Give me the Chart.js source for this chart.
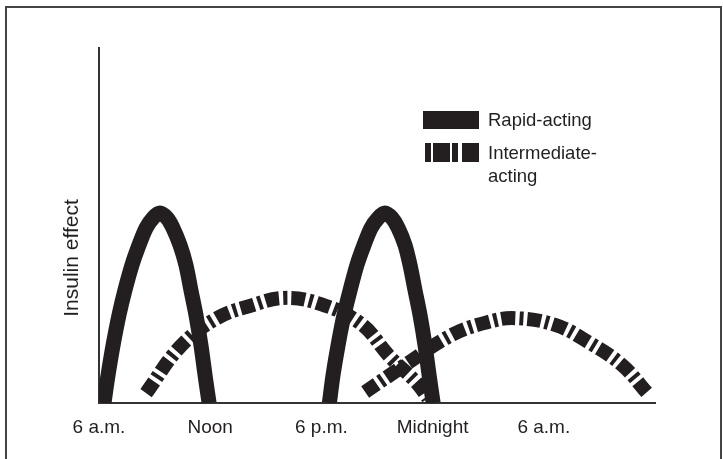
<!DOCTYPE html>
<html>
<head>
<meta charset="utf-8">
<script src="https://cdn.jsdelivr.net/npm/chart.js@4.4.1/dist/chart.umd.min.js"></script>
<style>
body { margin: 0; background: #fff; }
#wrap { width: 723px; height: 459px; }
</style>
</head>
<body>
<div id="wrap"><canvas id="myChart" width="723" height="459"></canvas></div>
<script>
// x = hours after 6 a.m. of the first day, y = relative insulin effect (0-100)
const tickHours = [0, 6, 12, 18, 24];
const tickLabels = ['6 a.m.', 'Noon', '6 p.m.', 'Midnight', '6 a.m.'];

const rapid1Hours = [0.27, 0.49, 0.76, 1.08, 1.40, 1.78, 2.16, 2.54, 2.91, 3.29,
    3.67, 3.99, 4.37, 4.69, 4.96, 5.23, 5.50, 5.72, 5.94];
const rapid1Effect = [0, 7.9, 16.3, 24.8, 31.8, 38.9, 44.5, 49.3, 52.1, 53.5,
    52.1, 49.3, 44.5, 38.9, 31.8, 24.8, 16.3, 7.9, 0];

const rapid2Hours = [12.43, 12.63, 12.90, 13.22, 13.55, 13.92, 14.30, 14.68, 15.06, 15.43,
    15.81, 16.14, 16.51, 16.78, 17.05, 17.32, 17.59, 17.81, 18.03];
const rapid2Effect = [0, 7.9, 16.3, 24.8, 31.8, 38.9, 44.5, 49.3, 52.1, 53.5,
    52.1, 49.3, 44.5, 38.9, 31.8, 24.8, 16.3, 7.9, 0];

const inter1Hours = [2.54, 4.37, 6.37, 8.31, 9.93, 11.76, 14.09, 15.70, 17.16, 17.75];
const inter1Effect = [2.8, 15.8, 23.9, 27.6, 29.6, 28.2, 22.5, 13.0, 5.6, 1.4];

const inter2Hours = [14.36, 16.51, 19.05, 20.99, 22.45, 24.61, 26.39, 28.22, 29.63];
const inter2Effect = [3.1, 10.7, 19.2, 22.8, 23.9, 22.0, 17.2, 10.7, 2.5];

const ink = '#231f20';
const fontFamily = '"Liberation Sans", Arial, sans-serif';
const dashPattern = [14, 4, 4, 4];

function points(xs, ys) {
    return xs.map((x, i) => ({ x: x, y: ys[i] }));
}

function rapidSet(xs, ys) {
    return {
        label: 'Rapid-acting',
        data: points(xs, ys),
        borderColor: ink,
        borderWidth: 15,
        pointRadius: 0,
        tension: 0.3,
        fill: false
    };
}

function interSet(xs, ys) {
    return {
        label: 'Intermediate-acting',
        data: points(xs, ys),
        borderColor: ink,
        borderWidth: 14,
        borderDash: dashPattern,
        pointRadius: 0,
        tension: 0.4,
        fill: false
    };
}

// frame, y title and legend drawn straight on the canvas
const decorations = {
    id: 'decorations',
    beforeDraw(chart) {
        const ctx = chart.ctx;
        ctx.save();
        ctx.fillStyle = '#fff';
        ctx.fillRect(0, 0, chart.width, chart.height);
        ctx.strokeStyle = '#444';
        ctx.lineWidth = 2;
        ctx.strokeRect(6, 7, 715, 470);
        ctx.restore();
    },
    afterDraw(chart) {
        const ctx = chart.ctx;
        ctx.save();
        ctx.fillStyle = ink;
        ctx.textBaseline = 'middle';
        ctx.textAlign = 'left';

        // y title
        ctx.save();
        ctx.font = '21px ' + fontFamily;
        ctx.translate(72, 258);
        ctx.rotate(-Math.PI / 2);
        ctx.textAlign = 'center';
        ctx.fillText('Insulin effect', 0, 0);
        ctx.restore();

        // legend
        ctx.font = '18.5px ' + fontFamily;
        ctx.fillRect(423, 111, 56, 18);
        ctx.fillRect(425, 143, 6, 19);
        ctx.fillRect(433, 143, 17, 19);
        ctx.fillRect(452, 143, 6, 19);
        ctx.fillRect(462, 143, 17, 19);
        ctx.fillText('Rapid-acting', 488, 121);
        ctx.fillText('Intermediate-', 488, 154);
        ctx.fillText('acting', 488, 177);
        ctx.restore();
    }
};

const config = {
    type: 'line',
    data: {
        datasets: [
            rapidSet(rapid1Hours, rapid1Effect),
            rapidSet(rapid2Hours, rapid2Effect),
            interSet(inter1Hours, inter1Effect),
            interSet(inter2Hours, inter2Effect)
        ]
    },
    options: {
        responsive: false,
        animation: false,
        layout: { padding: { left: 0, top: 48, right: 68, bottom: 0 } },
        plugins: {
            legend: { display: false },
            tooltip: { enabled: false }
        },
        scales: {
            x: {
                type: 'linear',
                min: 0,
                max: 30,
                grid: { display: false, drawTicks: false },
                border: { display: true, color: '#333', width: 2 },
                afterBuildTicks(scale) {
                    scale.ticks = tickHours.map(v => ({ value: v }));
                },
                afterFit(scale) { scale.height = 56; },
                ticks: {
                    color: ink,
                    padding: 13,
                    maxRotation: 0,
                    font: { family: fontFamily, size: 19 },
                    callback: function (value) {
                        const i = tickHours.indexOf(value);
                        return i >= 0 ? tickLabels[i] : '';
                    }
                }
            },
            y: {
                min: 0,
                max: 100,
                grid: { display: false, drawTicks: false },
                border: { display: true, color: '#333', width: 2 },
                ticks: { display: false },
                afterFit(scale) { scale.width = 99; }
            }
        }
    },
    plugins: [decorations]
};

const myChart = new Chart(document.getElementById('myChart'), config);
</script>
</body>
</html>
